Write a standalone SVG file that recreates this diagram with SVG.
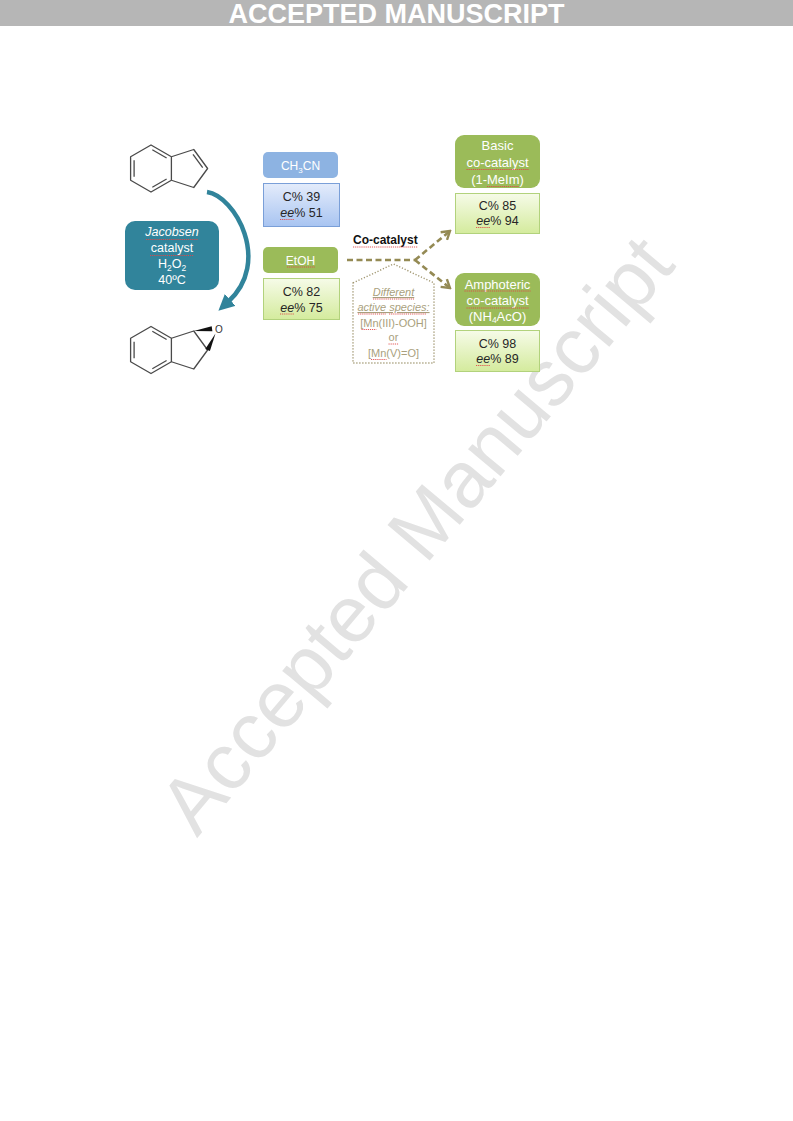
<svg xmlns="http://www.w3.org/2000/svg" width="793" height="1121" viewBox="0 0 793 1121">
<style>
  .t{font-family:"Liberation Sans",Arial,sans-serif}
  .w{fill:#ffffff}
  .dk{fill:#262626}
  .mol{fill:none;stroke:#4a4a4a;stroke-width:1.3;stroke-linejoin:round}
  .sq{stroke:#e04848;stroke-width:0.9;stroke-dasharray:1.2 0.9;fill:none}
  .lab-g{fill:#9bbb59}
  .lab-b{fill:#8db3e2}
  .res-g{fill:url(#gG);stroke:#b2d27c;stroke-width:1}
  .res-b{fill:url(#gB);stroke:#7a9fd8;stroke-width:1}
  .dash{fill:none;stroke:#948a54;stroke-width:2.6;stroke-dasharray:6 3.5}
  .pt{fill:#a99f7d;font-size:11px}
</style>
<defs>
  <linearGradient id="gB" x1="0" y1="0" x2="0" y2="1">
    <stop offset="0" stop-color="#e4ecfb"/>
    <stop offset="1" stop-color="#a8c4f1"/>
  </linearGradient>
  <linearGradient id="gG" x1="0" y1="0" x2="0" y2="1">
    <stop offset="0" stop-color="#f6fbe8"/>
    <stop offset="1" stop-color="#d4eb9d"/>
  </linearGradient>
  <marker id="arrT" viewBox="0 0 16 16" refX="3" refY="8" markerWidth="16" markerHeight="16" markerUnits="userSpaceOnUse" orient="auto">
    <path d="M0,0 L16,8 L0,16 z" fill="#31849b"/>
  </marker>
  <marker id="arrO" viewBox="0 0 12 12" refX="10" refY="6" markerWidth="12" markerHeight="12" markerUnits="userSpaceOnUse" orient="auto">
    <path d="M2,1 L10,6 L2,11" fill="none" stroke="#948a54" stroke-width="2.4"/>
  </marker>
</defs>

<rect width="793" height="1121" fill="#ffffff"/>

<!-- watermark -->
<text class="t" x="0" y="0" transform="translate(437,552) rotate(-50)" text-anchor="middle" font-size="80" fill="#e2e2e2">Accepted Manuscript</text>

<!-- header -->
<g id="header">
  <rect x="0" y="0" width="793" height="26" fill="#b6b6b6"/>
  <text class="t w" x="396.5" y="23" text-anchor="middle" font-size="27" font-weight="bold">ACCEPTED MANUSCRIPT</text>
</g>

<!-- indene -->
<g id="indene">
  <polygon class="mol" points="151,145 171.4,156.75 171.4,180.25 151,192 130.6,180.25 130.6,156.75"/>
  <polyline class="mol" points="171.4,156.75 193.75,149.5 207.6,168.5 193.75,187.5 171.4,180.25"/>
  <line class="mol" x1="152.3" y1="149.8" x2="166.6" y2="158"/>
  <line class="mol" x1="166.6" y1="179" x2="152.3" y2="187.2"/>
  <line class="mol" x1="134.1" y1="176.75" x2="134.1" y2="160.25"/>
  <line class="mol" x1="193" y1="154.4" x2="202.7" y2="167.7"/>
</g>

<!-- epoxide product -->
<g id="epoxide">
  <polygon class="mol" points="151,326.5 171.4,338.25 171.4,361.75 151,373.5 130.6,361.75 130.6,338.25"/>
  <polyline class="mol" points="171.4,338.25 193.75,331 207.6,350 193.75,369 171.4,361.75"/>
  <line class="mol" x1="152.3" y1="331.3" x2="166.6" y2="339.5"/>
  <line class="mol" x1="166.6" y1="360.5" x2="152.3" y2="368.7"/>
  <line class="mol" x1="134.1" y1="358.25" x2="134.1" y2="341.75"/>
  <polygon points="193.75,331 212.4,331.2 211.7,326.2" fill="#111"/>
  <polygon points="209.9,351 205.3,348.9 215.5,333.5" fill="#111"/>
  <text class="t" x="219" y="332.5" text-anchor="middle" font-size="10" fill="#333">O</text>
</g>

<!-- Jacobsen catalyst -->
<g id="jacobsen">
  <rect x="125" y="221" width="94" height="69" rx="10" fill="#31849b"/>
  <text class="t w" x="172" y="236" text-anchor="middle" font-size="12.5" font-style="italic">Jacobsen</text>
  <text class="t w" x="172" y="252" text-anchor="middle" font-size="12.5">catalyst</text>
  <text class="t w" x="172" y="268" text-anchor="middle" font-size="12.5">H<tspan font-size="8.5" dy="3">2</tspan><tspan dy="-3">O</tspan><tspan font-size="8.5" dy="3">2</tspan></text>
  <text class="t w" x="172" y="284" text-anchor="middle" font-size="12.5">40ºC</text>
  <line class="sq" x1="146" y1="239.5" x2="198" y2="239.5"/>
  <line class="sq" x1="150" y1="255.5" x2="194" y2="255.5"/>
</g>

<!-- CH3CN -->
<g id="ch3cn">
  <rect x="263" y="152" width="75" height="26" rx="5" class="lab-b"/>
  <text class="t w" x="300.5" y="170" text-anchor="middle" font-size="12">CH<tspan font-size="8" dy="2.5">3</tspan><tspan dy="-2.5">CN</tspan></text>
</g>
<g id="ch3cn-result">
  <rect x="263.5" y="183.5" width="76" height="43" class="res-b"/>
  <text class="t dk" x="301.5" y="201" text-anchor="middle" font-size="12.5">C% 39</text>
  <text class="t dk" x="301.5" y="217" text-anchor="middle" font-size="12.5"><tspan font-style="italic">ee</tspan>% 51</text>
  <line class="sq" x1="280" y1="219.5" x2="294" y2="219.5"/>
</g>

<!-- EtOH -->
<g id="etoh">
  <rect x="263" y="247" width="75" height="26" rx="5" class="lab-g"/>
  <text class="t w" x="300.5" y="264.5" text-anchor="middle" font-size="12">EtOH</text>
  <line class="sq" x1="287" y1="267" x2="315" y2="267"/>
</g>
<g id="etoh-result">
  <rect x="263.5" y="278.5" width="76" height="41" class="res-g"/>
  <text class="t dk" x="301.5" y="295.5" text-anchor="middle" font-size="12.5">C% 82</text>
  <text class="t dk" x="301.5" y="311.5" text-anchor="middle" font-size="12.5"><tspan font-style="italic">ee</tspan>% 75</text>
  <line class="sq" x1="280" y1="314" x2="294" y2="314"/>
</g>

<!-- Basic co-catalyst -->
<g id="basic">
  <rect x="455" y="135" width="85" height="53" rx="9" class="lab-g"/>
  <text class="t w" x="497.5" y="149.5" text-anchor="middle" font-size="13">Basic</text>
  <text class="t w" x="497.5" y="166.5" text-anchor="middle" font-size="13">co-catalyst</text>
  <text class="t w" x="497.5" y="183.5" text-anchor="middle" font-size="13">(1-MeIm)</text>
  <line class="sq" x1="466.5" y1="169.5" x2="528.5" y2="169.5"/>
  <line class="sq" x1="487" y1="186.5" x2="519" y2="186.5"/>
</g>
<g id="basic-result">
  <rect x="455.5" y="193.5" width="84" height="40" class="res-g"/>
  <text class="t dk" x="497.5" y="210" text-anchor="middle" font-size="12.5">C% 85</text>
  <text class="t dk" x="497.5" y="225" text-anchor="middle" font-size="12.5"><tspan font-style="italic">ee</tspan>% 94</text>
  <line class="sq" x1="476" y1="227.5" x2="490" y2="227.5"/>
</g>

<!-- Amphoteric co-catalyst -->
<g id="amphoteric">
  <rect x="455" y="273" width="85" height="53" rx="9" class="lab-g"/>
  <text class="t w" x="497.5" y="288.5" text-anchor="middle" font-size="13">Amphoteric</text>
  <text class="t w" x="497.5" y="305" text-anchor="middle" font-size="13">co-catalyst</text>
  <text class="t w" x="497.5" y="320.5" text-anchor="middle" font-size="13">(NH<tspan font-size="8.5" dy="2.5">4</tspan><tspan dy="-2.5">AcO)</tspan></text>
  <line class="sq" x1="464.5" y1="291" x2="530.5" y2="291"/>
  <line class="sq" x1="466.5" y1="308" x2="528.5" y2="308"/>
</g>
<g id="amphoteric-result">
  <rect x="455.5" y="330.5" width="84" height="41" class="res-g"/>
  <text class="t dk" x="497.5" y="347.5" text-anchor="middle" font-size="12.5">C% 98</text>
  <text class="t dk" x="497.5" y="363" text-anchor="middle" font-size="12.5"><tspan font-style="italic">ee</tspan>% 89</text>
  <line class="sq" x1="476" y1="365.5" x2="490" y2="365.5"/>
</g>

<!-- Co-catalyst label -->
<g id="cocatalyst-label">
  <text class="t" x="353" y="244" font-size="12" font-weight="bold" fill="#111">Co-catalyst</text>
  <line class="sq" x1="353" y1="247" x2="418" y2="247"/>
</g>

<!-- active species pentagon -->
<g id="active-species">
  <polygon points="353,283 393.5,264 434,283 434,363 353,363" fill="none" stroke="#a09670" stroke-width="1.4" stroke-dasharray="1.2 1.8"/>
  <text class="t pt" x="393.5" y="296" text-anchor="middle" font-style="italic" text-decoration="underline">Different</text>
  <text class="t pt" x="393.5" y="311" text-anchor="middle" font-style="italic" text-decoration="underline">active species:</text>
  <text class="t pt" x="393.5" y="326.5" text-anchor="middle">[Mn(III)-OOH]</text>
  <text class="t pt" x="393.5" y="341" text-anchor="middle">or</text>
  <text class="t pt" x="393.5" y="356.5" text-anchor="middle">[Mn(V)=O]</text>
  <line class="sq" x1="373" y1="299" x2="414" y2="299"/>
  <line class="sq" x1="358" y1="314" x2="386" y2="314"/>
  <line class="sq" x1="389" y1="314" x2="426" y2="314"/>
  <line class="sq" x1="361.5" y1="329.5" x2="376.5" y2="329.5"/>
  <line class="sq" x1="388.5" y1="344" x2="398.5" y2="344"/>
  <line class="sq" x1="371" y1="359.5" x2="386.5" y2="359.5"/>
</g>

<!-- connectors -->
<g id="connectors">
  <path d="M207,192 C235,196 272,262 228,302" fill="none" stroke="#31849b" stroke-width="4.5" marker-end="url(#arrT)"/>
  <path class="dash" d="M347,260 L415,260"/>
  <path class="dash" d="M415,260 L450,231" marker-end="url(#arrO)"/>
  <path class="dash" d="M415,260 L450,288" marker-end="url(#arrO)"/>
</g>
</svg>
